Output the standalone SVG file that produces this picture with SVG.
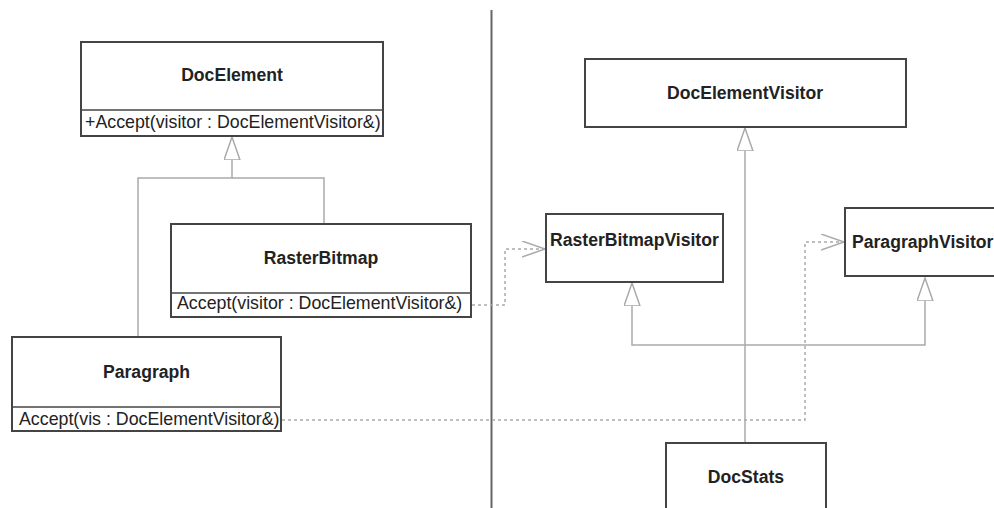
<svg xmlns="http://www.w3.org/2000/svg" width="994" height="508" viewBox="0 0 994 508">
<style>
.box{fill:#fff;stroke:#444;stroke-width:2}
.div{stroke:#444;stroke-width:1.6;fill:none}
.title{font-family:"Liberation Sans",Arial,sans-serif;font-weight:bold;font-size:17.6px;fill:#222}
.op{font-family:"Liberation Sans",Arial,sans-serif;font-size:17.8px;fill:#222}
.gen{fill:none;stroke:#aaa;stroke-width:1.5}
.dep{fill:none;stroke:#aaa;stroke-width:1.5;stroke-dasharray:3 3}
.sep{stroke:#666;stroke-width:2}
</style>
<defs>
<marker id="tri" markerUnits="userSpaceOnUse" markerWidth="26" markerHeight="20" refX="23" refY="8" orient="auto">
<path d="M0,0 L23,8 L0,16 Z" fill="#fff" stroke="#aaa" stroke-width="1.5"/>
</marker>
<marker id="open" markerUnits="userSpaceOnUse" markerWidth="26" markerHeight="20" refX="23" refY="8" orient="auto">
<path d="M0,0 L23,8 L0,16" fill="none" stroke="#aaa" stroke-width="1.5"/>
</marker>
</defs>
<line class="sep" x1="491.5" y1="10" x2="491.5" y2="508"/>
<g id="connectors">
<path class="gen" d="M138,337 V178 H232 V137" marker-end="url(#tri)"/>
<path class="gen" d="M324,224 V178 H232"/>
<path class="gen" d="M745,443 V128" marker-end="url(#tri)"/>
<path class="gen" d="M745,345 H632 V283" marker-end="url(#tri)"/>
<path class="gen" d="M745,345 H925 V278" marker-end="url(#tri)"/>
<path class="dep" d="M472,305 H505 V249 H545" marker-end="url(#open)"/>
<path class="dep" d="M282,420 H805 V242 H844" marker-end="url(#open)"/>
</g>
<g id="DocElement">
<rect class="box" x="81" y="42" width="302" height="94"/>
<line class="div" x1="81" y1="110" x2="383" y2="110"/>
<text class="title" x="232" y="81" text-anchor="middle">DocElement</text>
<text class="op" x="85" y="128">+Accept(visitor : DocElementVisitor&amp;)</text>
</g>
<g id="RasterBitmap">
<rect class="box" x="171" y="224" width="300" height="93"/>
<line class="div" x1="171" y1="293" x2="471" y2="293"/>
<text class="title" x="321" y="264" text-anchor="middle">RasterBitmap</text>
<text class="op" x="177" y="309">Accept(visitor : DocElementVisitor&amp;)</text>
</g>
<g id="Paragraph">
<rect class="box" x="12" y="337" width="269" height="94"/>
<line class="div" x1="12" y1="407" x2="281" y2="407"/>
<text class="title" x="146.5" y="378" text-anchor="middle">Paragraph</text>
<text class="op" x="19" y="425">Accept(vis : DocElementVisitor&amp;)</text>
</g>
<g id="DocElementVisitor">
<rect class="box" x="585" y="59" width="321" height="68"/>
<text class="title" x="745" y="99" text-anchor="middle">DocElementVisitor</text>
</g>
<g id="RasterBitmapVisitor">
<rect class="box" x="546" y="214" width="177" height="68"/>
<text class="title" x="550" y="246">RasterBitmapVisitor</text>
</g>
<g id="ParagraphVisitor">
<rect class="box" x="845" y="208" width="200" height="68"/>
<text class="title" x="852" y="248">ParagraphVisitor</text>
</g>
<g id="DocStats">
<rect class="box" x="666" y="443" width="160" height="100"/>
<text class="title" x="746" y="483" text-anchor="middle">DocStats</text>
</g>
</svg>
